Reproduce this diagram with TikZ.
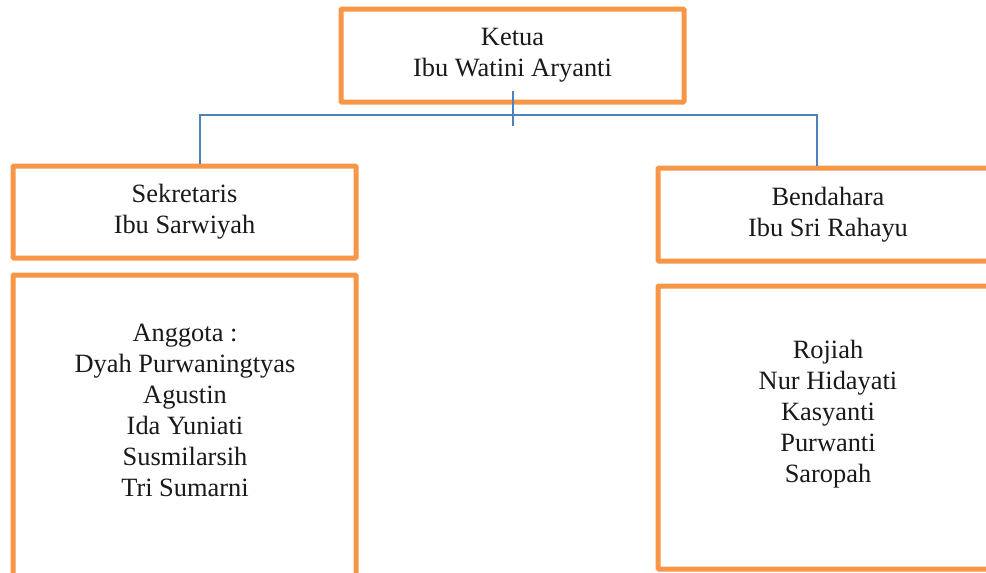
\documentclass[tikz,border=0pt]{standalone}
\usepackage{fontspec}
\setmainfont{Liberation Serif}
\definecolor{boxorange}{HTML}{F79646}
\definecolor{lineblue}{HTML}{4F81BD}
\begin{document}
\begin{tikzpicture}[x=1pt,y=-1pt,
  box/.style={draw=boxorange, line width=5pt, rounded corners=1pt, fill=white, inner sep=0pt,
    font=\fontsize{26.4pt}{31pt}\selectfont, align=center, text=black!90},
  txt/.style={inner sep=0pt, font=\fontsize{26.4pt}{31pt}\selectfont, align=center, text=black!90},
  conn/.style={draw=lineblue, line width=1.5pt}]
\useasboundingbox (0,0) rectangle (986,573);
\clip (0,0) rectangle (986,573);
% boxes
\node[box, minimum width=343pt, minimum height=93pt] (ketua) at (512.5,55.5) {Ketua\\Ibu Watini Aryanti};
\node[box, minimum width=343pt, minimum height=92pt] (sek) at (184.5,212) {Sekretaris\\Ibu Sarwiyah};
\node[box, minimum width=343pt, minimum height=325pt] (angg) at (184.5,437.5) {};
\node[box, minimum width=340pt, minimum height=93pt] (bend) at (828,214.5) {Bendahara\\Ibu Sri Rahayu};
\node[box, minimum width=340pt, minimum height=283pt] (anggb) at (828,427.5) {};
% member lists
\node[txt] (anggtxt) at (185,410) {Anggota :\\Dyah Purwaningtyas\\Agustin\\Ida Yuniati\\Susmilarsih\\Tri Sumarni};
\node[txt] (anggbtxt) at (828,414) {Rojiah\\Nur Hidayati\\Kasyanti\\Purwanti\\Saropah};
% connectors
\coordinate (ktop) at (513,91);
\coordinate (kbot) at (513,126);
\coordinate (hl) at (200,115);
\coordinate (hr) at (817,115);
\draw[conn] (ktop) -- (kbot);
\draw[conn] (hl |- sek.north) -- (hl) -- (hr) -- (hr |- bend.north);
\end{tikzpicture}
\end{document}
